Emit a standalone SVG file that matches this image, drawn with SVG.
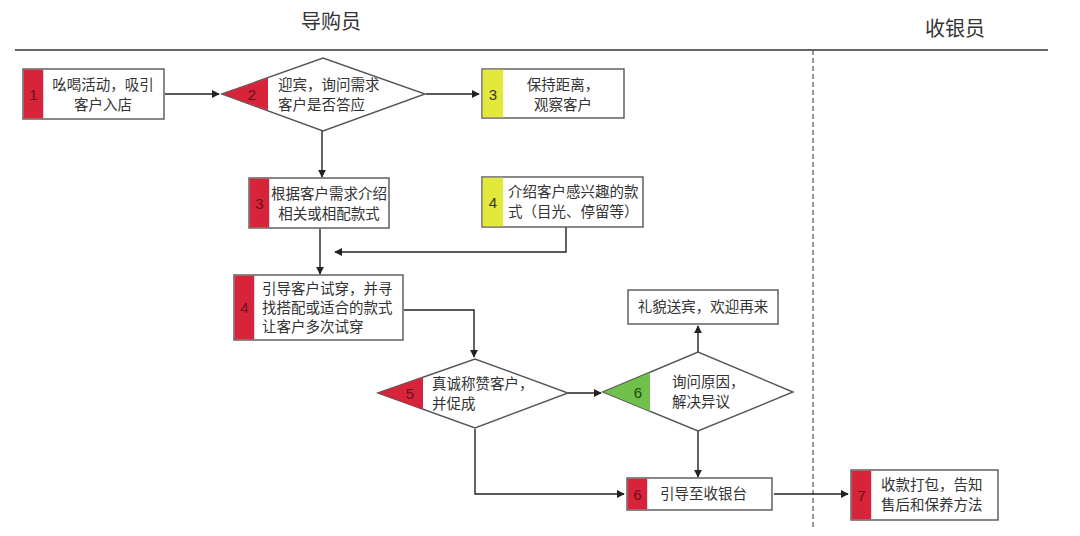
<svg xmlns="http://www.w3.org/2000/svg" width="1080" height="536" viewBox="0 0 1080 536">
<style>
.box{fill:#fff;stroke:#555;stroke-width:1.4}
.red{fill:#d8243a}
.yel{fill:#e3e83a}
.grn{fill:#70c04b}
.t{font-family:"Noto Sans CJK SC","Noto Sans",sans-serif;font-size:14.5px;fill:#333}
.n{font-family:"Liberation Sans","Noto Sans",sans-serif;font-size:15px;fill:#6a1018;text-anchor:middle}
.ny{font-family:"Liberation Sans","Noto Sans",sans-serif;font-size:15px;fill:#333;text-anchor:middle}
.h{font-family:"Noto Sans CJK SC","Noto Sans",sans-serif;font-size:20px;fill:#333;text-anchor:middle}
.c{fill:none;stroke:#222;stroke-width:1.4}
</style>
<defs>
<marker id="ar" viewBox="0 0 10 10" refX="9" refY="5" markerWidth="8" markerHeight="8" markerUnits="userSpaceOnUse" orient="auto">
<path d="M0,0 L10,5 L0,10 z" fill="#222"/>
</marker>
</defs>
<rect width="1080" height="536" fill="#fff"/>
<g id="lanes">
<text class="h" x="331" y="29">导购员</text>
<text class="h" x="955" y="36">收银员</text>
<line x1="15" y1="50" x2="1048" y2="50" stroke="#666" stroke-width="2"/>
<line x1="813" y1="50" x2="813" y2="530" stroke="#555" stroke-width="1.2" stroke-dasharray="5,3"/>
</g>
<g id="connectors">
<line class="c" x1="165" y1="94" x2="219" y2="94" marker-end="url(#ar)"/>
<line class="c" x1="426" y1="94" x2="479" y2="94" marker-end="url(#ar)"/>
<line class="c" x1="322" y1="131" x2="322" y2="177" marker-end="url(#ar)"/>
<polyline class="c" points="566,227 566,252 335,252" marker-end="url(#ar)"/>
<line class="c" x1="320" y1="229" x2="320" y2="274" marker-end="url(#ar)"/>
<polyline class="c" points="404,310 474,310 474,357" marker-end="url(#ar)"/>
<line class="c" x1="568" y1="393" x2="601" y2="393" marker-end="url(#ar)"/>
<line class="c" x1="698" y1="352" x2="698" y2="326" marker-end="url(#ar)"/>
<line class="c" x1="698" y1="430" x2="698" y2="477" marker-end="url(#ar)"/>
<polyline class="c" points="475,429 475,494 624,494" marker-end="url(#ar)"/>
<line class="c" x1="774" y1="494" x2="848" y2="494" marker-end="url(#ar)"/>
</g>
<g id="n1">
<rect class="box" x="23" y="69" width="141" height="50"/>
<rect class="red" x="23.7" y="69.7" width="19.5" height="48.6"/>
<text class="n" x="33.5" y="100">1</text>
<text class="t" x="103" y="90" text-anchor="middle">吆喝活动，吸引</text>
<text class="t" x="103" y="110" text-anchor="middle">客户入店</text>
</g>
<g id="n2">
<polygon class="box" points="222,94 323,58 425,94 323,131"/>
<polygon class="red" points="222.8,94 268,77.9 268,110.3"/>
<text class="n" x="252" y="100">2</text>
<text class="t" x="278" y="90">迎宾，询问需求</text>
<text class="t" x="278" y="110">客户是否答应</text>
</g>
<g id="n3y">
<rect class="box" x="482" y="69" width="142" height="49"/>
<rect class="yel" x="482.7" y="69.7" width="20.5" height="47.6"/>
<text class="ny" x="493" y="100">3</text>
<text class="t" x="563" y="90" text-anchor="middle">保持距离，</text>
<text class="t" x="563" y="110" text-anchor="middle">观察客户</text>
</g>
<g id="n3">
<rect class="box" x="249" y="178" width="140" height="50"/>
<rect class="red" x="249.7" y="178.7" width="19.5" height="48.6"/>
<text class="n" x="259.5" y="209">3</text>
<text class="t" x="329" y="199" text-anchor="middle">根据客户需求介绍</text>
<text class="t" x="329" y="219" text-anchor="middle">相关或相配款式</text>
</g>
<g id="n4y">
<rect class="box" x="482" y="177" width="161" height="50"/>
<rect class="yel" x="482.7" y="177.7" width="20.5" height="48.6"/>
<text class="ny" x="493" y="208">4</text>
<text class="t" x="508" y="197">介绍客户感兴趣的款</text>
<text class="t" x="508" y="217">式（目光、停留等）</text>
</g>
<g id="n4">
<rect class="box" x="234" y="275" width="169" height="65"/>
<rect class="red" x="234.7" y="275.7" width="19.5" height="63.6"/>
<text class="n" x="244.5" y="313">4</text>
<text class="t" x="262" y="294">引导客户试穿，并寻</text>
<text class="t" x="262" y="313">找搭配或适合的款式</text>
<text class="t" x="262" y="332">让客户多次试穿</text>
</g>
<g id="n5">
<polygon class="box" points="378,393 475,359 568,393 475,428"/>
<polygon class="red" points="378.8,393 423,377.5 423,409.4"/>
<text class="n" x="410" y="399">5</text>
<text class="t" x="432" y="389">真诚称赞客户，</text>
<text class="t" x="432" y="409">并促成</text>
</g>
<g id="n6d">
<polygon class="box" points="603,392 698,352 793,392 698,431"/>
<polygon class="grn" points="603.8,392 650,372.5 650,411.2"/>
<text class="n" x="638" y="398" style="fill:#1d4a12">6</text>
<text class="t" x="672" y="387">询问原因，</text>
<text class="t" x="672" y="407">解决异议</text>
</g>
<g id="nbye">
<rect class="box" x="628" y="290" width="150" height="34"/>
<text class="t" x="703" y="312" text-anchor="middle">礼貌送宾，欢迎再来</text>
</g>
<g id="n6">
<rect class="box" x="627" y="478" width="145" height="32"/>
<rect class="red" x="627.7" y="478.7" width="19.5" height="30.6"/>
<text class="n" x="637.5" y="500">6</text>
<text class="t" x="660" y="499">引导至收银台</text>
</g>
<g id="n7">
<rect class="box" x="851" y="470" width="147" height="50"/>
<rect class="red" x="851.7" y="470.7" width="19.5" height="48.6"/>
<text class="n" x="861.5" y="501">7</text>
<text class="t" x="881" y="490">收款打包，告知</text>
<text class="t" x="881" y="510">售后和保养方法</text>
</g>
</svg>
